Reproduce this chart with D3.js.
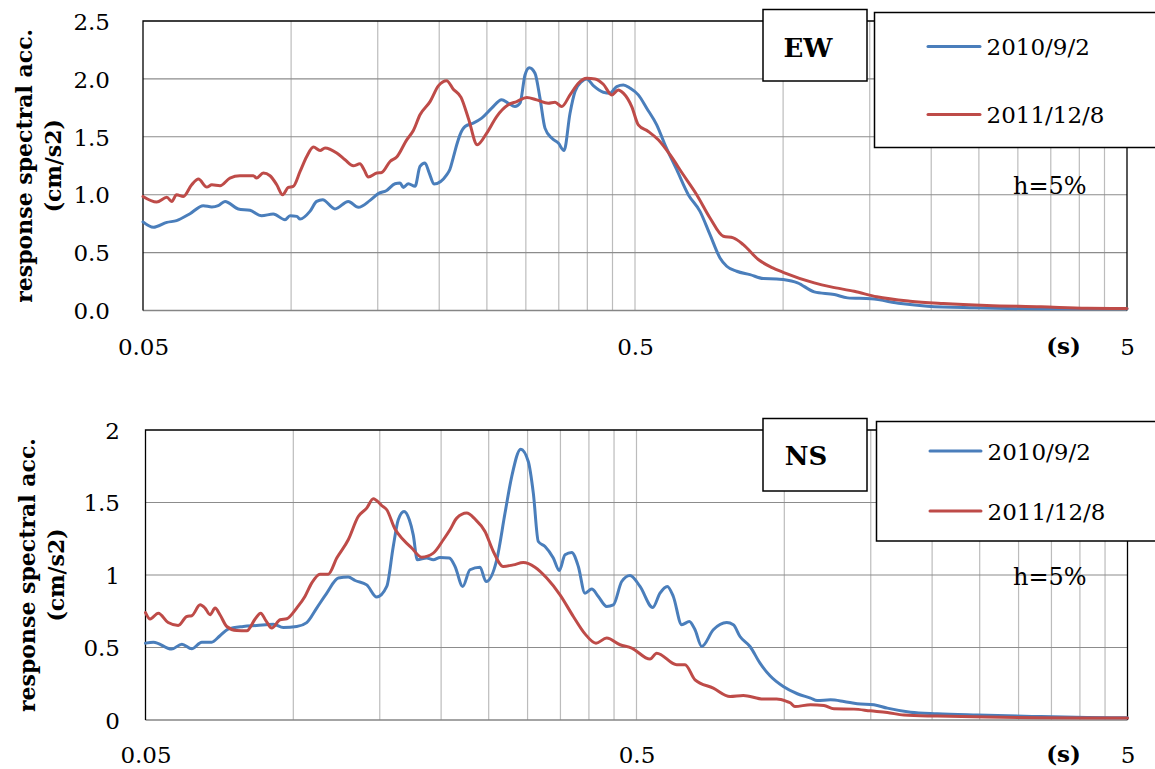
<!DOCTYPE html>
<html>
<head>
<meta charset="utf-8">
<script src="https://cdn.jsdelivr.net/npm/d3@7"></script>
<style>
  body { margin: 0; background: #fff; }
  svg { display: block; }
</style>
</head>
<body>
<svg id="chart" width="1155" height="769"></svg>
<script>
// ---- Response spectra (period in s, acceleration in cm/s2), h = 5% ----
const seriesNames = ["2010/9/2", "2011/12/8"];

// EW component
const ewPeriod2010 = [0.050,0.0525,0.0559,0.0585,0.0623,0.0663,0.0690,0.0711,0.0734,0.0781,0.0825,0.0871,0.0920,0.0972,0.0995,0.1027,0.1043,0.1092,0.1127,0.1159,0.1228,0.1307,0.1370,0.1447,0.1504,0.1564,0.1626,0.1665,0.1691,0.1731,0.1786,0.1828,0.1871,0.1909,0.1952,0.2071,0.2103,0.2136,0.2171,0.2204,0.2257,0.2346,0.2440,0.2557,0.2679,0.2763,0.2851,0.2919,0.2988,0.3049,0.3131,0.3205,0.3281,0.3386,0.3492,0.3587,0.3689,0.3776,0.3896,0.3988,0.4114,0.4311,0.4448,0.4590,0.4734,0.4885,0.5078,0.5282,0.5535,0.5754,0.6078,0.6417,0.6778,0.7103,0.7443,0.7680,0.8048,0.8565,0.9115,0.9705,1.000,1.070,1.157,1.271,1.352,1.509,1.736,1.966,2.446,3.343,5.0];
const ewAcc2010    = [0.765,0.718,0.761,0.776,0.836,0.905,0.894,0.905,0.942,0.877,0.865,0.819,0.833,0.784,0.819,0.813,0.790,0.856,0.942,0.957,0.877,0.942,0.891,0.951,1.009,1.037,1.095,1.101,1.063,1.095,1.072,1.244,1.273,1.187,1.092,1.172,1.22,1.32,1.431,1.517,1.589,1.618,1.661,1.747,1.819,1.790,1.761,1.790,2.034,2.097,2.049,1.834,1.575,1.489,1.446,1.382,1.704,1.891,1.977,2.000,1.942,1.885,1.877,1.934,1.948,1.920,1.862,1.747,1.603,1.431,1.216,1.000,0.856,0.655,0.454,0.382,0.339,0.310,0.276,0.273,0.267,0.239,0.161,0.138,0.109,0.101,0.060,0.037,0.023,0.015,0.015];
const ewPeriod2011 = [0.050,0.0533,0.0559,0.0572,0.0585,0.0604,0.0628,0.0648,0.0674,0.0690,0.0717,0.0751,0.0787,0.0838,0.0851,0.0878,0.0906,0.0935,0.0961,0.0987,0.1010,0.1043,0.1076,0.1110,0.1145,0.1172,0.1238,0.1287,0.1338,0.1380,0.1407,0.1435,0.1493,0.1528,0.1589,0.1639,0.1718,0.1772,0.1828,0.1916,0.1992,0.2071,0.2136,0.2215,0.2292,0.2390,0.2498,0.2617,0.2763,0.2874,0.3012,0.3156,0.3332,0.3439,0.3548,0.3689,0.3835,0.3988,0.4147,0.4311,0.4484,0.4624,0.4734,0.4924,0.5078,0.5321,0.5576,0.5890,0.6268,0.6674,0.7103,0.7559,0.7921,0.8300,0.8904,0.9500,1.000,1.157,1.251,1.395,1.550,1.811,2.117,2.593,3.343,4.141,5.0];
const ewAcc2011    = [0.985,0.937,0.977,0.942,1.000,0.985,1.086,1.135,1.066,1.086,1.078,1.144,1.164,1.164,1.144,1.187,1.164,1.086,1.000,1.063,1.072,1.201,1.330,1.411,1.382,1.403,1.360,1.302,1.250,1.267,1.216,1.153,1.187,1.192,1.287,1.325,1.474,1.554,1.690,1.804,1.940,1.985,1.911,1.840,1.661,1.431,1.532,1.675,1.776,1.804,1.839,1.819,1.790,1.799,1.761,1.862,1.963,2.006,2.000,1.954,1.862,1.905,1.877,1.761,1.603,1.546,1.474,1.345,1.172,1.000,0.799,0.641,0.627,0.569,0.440,0.370,0.330,0.239,0.204,0.166,0.118,0.080,0.060,0.043,0.032,0.020,0.017];

// NS component
const nsPeriod2010 = [0.050,0.0519,0.0565,0.0593,0.0621,0.0651,0.0682,0.0709,0.0737,0.0791,0.0842,0.0911,0.0954,0.1016,0.1065,0.1116,0.1170,0.1235,0.1294,0.1336,0.1411,0.1479,0.1550,0.1598,0.1636,0.1681,0.1723,0.1755,0.1789,0.1869,0.1928,0.1990,0.2078,0.2135,0.2213,0.2290,0.2400,0.2469,0.2596,0.2699,0.2785,0.2905,0.3010,0.3082,0.3155,0.3256,0.3385,0.3481,0.3576,0.3690,0.3806,0.3927,0.4053,0.4180,0.4348,0.4485,0.4665,0.4850,0.5083,0.5395,0.5583,0.5777,0.5942,0.6181,0.6405,0.6579,0.6788,0.7168,0.7633,0.7873,0.8124,0.8514,0.8923,0.9352,0.9953,1.063,1.131,1.167,1.242,1.322,1.408,1.522,1.621,1.808,2.049,2.471,3.274,4.140,5.0];
const nsAcc2010    = [0.530,0.537,0.489,0.523,0.491,0.537,0.537,0.581,0.627,0.645,0.652,0.661,0.638,0.645,0.672,0.772,0.875,0.979,0.986,0.962,0.932,0.848,0.921,1.197,1.381,1.438,1.381,1.277,1.105,1.117,1.105,1.121,1.117,1.059,0.921,1.036,1.054,0.955,1.105,1.427,1.679,1.868,1.783,1.565,1.231,1.197,1.117,1.031,1.139,1.155,1.059,0.875,0.903,0.852,0.783,0.794,0.955,0.997,0.921,0.776,0.875,0.921,0.852,0.657,0.679,0.622,0.507,0.622,0.672,0.657,0.576,0.507,0.392,0.305,0.231,0.181,0.151,0.134,0.139,0.128,0.112,0.105,0.082,0.054,0.043,0.034,0.024,0.017,0.015];
const nsPeriod2011 = [0.050,0.0511,0.0531,0.0556,0.0583,0.0607,0.0621,0.0646,0.0661,0.0677,0.0693,0.0709,0.0732,0.0767,0.0804,0.0836,0.0858,0.0880,0.0904,0.0940,0.0970,0.1016,0.1056,0.1090,0.1133,0.1178,0.1226,0.1294,0.1356,0.1411,0.1455,0.1514,0.1550,0.1611,0.1675,0.1742,0.1826,0.1928,0.2021,0.2085,0.2152,0.2255,0.2344,0.2457,0.2555,0.2677,0.2806,0.2941,0.3106,0.3282,0.3493,0.3718,0.3927,0.4135,0.4348,0.4628,0.4889,0.5327,0.5497,0.6038,0.6277,0.6579,0.7168,0.7752,0.8250,0.9062,0.9650,1.011,1.030,1.051,1.131,1.204,1.262,1.386,1.498,1.621,1.752,2.049,2.583,3.274,4.140,5.0];
const nsAcc2011    = [0.741,0.696,0.737,0.672,0.652,0.714,0.719,0.794,0.772,0.726,0.772,0.726,0.645,0.617,0.615,0.696,0.737,0.684,0.634,0.691,0.698,0.772,0.852,0.944,1.006,1.006,1.117,1.243,1.403,1.461,1.526,1.479,1.450,1.317,1.243,1.186,1.123,1.151,1.243,1.312,1.392,1.427,1.386,1.300,1.162,1.059,1.070,1.086,1.054,0.979,0.863,0.714,0.594,0.530,0.565,0.519,0.496,0.420,0.461,0.381,0.381,0.277,0.220,0.162,0.169,0.144,0.144,0.128,0.117,0.093,0.105,0.100,0.077,0.075,0.063,0.052,0.034,0.027,0.020,0.015,0.013,0.013];

// Axis ticks and grid
const xTickValues = [0.05, 0.5, 5];
const xGridValues = [0.1, 0.15, 0.2, 0.25, 0.3, 0.35, 0.4, 0.45, 0.5, 1, 1.5, 2, 2.5, 3, 3.5, 4, 4.5];
const ewYTicks = [0, 0.5, 1.0, 1.5, 2.0, 2.5];
const nsYTicks = [0, 0.5, 1, 1.5, 2];
const dampingLabel = "h=5%";
const yTitleLines = ["response spectral acc.", "(cm/s2)"];
const xUnitLabel = "(s)";

// ---- Styling / layout ----
const seriesColors = ["#4a7ebb", "#be4b48"];
const FONT = "'DejaVu Serif', 'Liberation Serif', serif";
const svg = d3.select("#chart");

const panels = [
  {
    name: "EW",
    series: [[ewPeriod2010, ewAcc2010], [ewPeriod2011, ewAcc2011]],
    yTicks: ewYTicks, yFormat: d3.format(".1f"),
    frame: { left: 143, right: 1127, top: 21, bottom: 310.5 },
    yLabelPad: 33, xLabelY: 355, titleX: [32, 61],
    nameBox: { x: 763, y: 9.5, w: 104, h: 71.5, tx: 808, ty: 57 },
    legend: { x: 874.5, y: 12.5, w: 300, h: 135, rows: [46.5, 114.5], lx1: 928, lx2: 980, tx: 986.5, dy: 8.5 },
    hLabel: { x: 1013, y: 194 }
  },
  {
    name: "NS",
    series: [[nsPeriod2010, nsAcc2010], [nsPeriod2011, nsAcc2011]],
    yTicks: nsYTicks, yFormat: d3.format("~g"),
    frame: { left: 145.5, right: 1127.5, top: 430, bottom: 720 },
    yLabelPad: 25.5, xLabelY: 763, titleX: [35, 64],
    nameBox: { x: 763, y: 418.5, w: 104, h: 72.5, tx: 806, ty: 465 },
    legend: { x: 876.5, y: 421.5, w: 300, h: 119.5, rows: [451, 511], lx1: 930, lx2: 981, tx: 987.5, dy: 9 },
    hLabel: { x: 1013, y: 585 }
  }
];

function drawPanel(p) {
  const f = p.frame;
  const x = d3.scaleLog().domain([0.05, 5]).range([f.left, f.right]);
  const y = d3.scaleLinear().domain([0, d3.max(p.yTicks)]).range([f.bottom, f.top]);
  const g = svg.append("g").attr("class", "panel-" + p.name);

  // vertical grid
  g.append("g").selectAll("line").data(xGridValues).join("line")
    .attr("x1", d => x(d)).attr("x2", d => x(d))
    .attr("y1", f.top).attr("y2", f.bottom)
    .attr("stroke", "#bcbcbc").attr("stroke-width", 1.2);

  // horizontal grid
  const yMax = d3.max(p.yTicks);
  g.append("g").selectAll("line").data(p.yTicks.filter(v => v > 0 && v < yMax)).join("line")
    .attr("x1", f.left).attr("x2", f.right)
    .attr("y1", d => y(d)).attr("y2", d => y(d))
    .attr("stroke", "#8c8c8c").attr("stroke-width", 1.1);

  // bottom axis line
  g.append("line")
    .attr("x1", f.left).attr("x2", f.right)
    .attr("y1", f.bottom).attr("y2", f.bottom)
    .attr("stroke", "#868686").attr("stroke-width", 1.6);

  // frame (left, top, right)
  g.append("path")
    .attr("d", `M${f.left},${f.bottom}V${f.top}H${f.right}V${f.bottom}`)
    .attr("fill", "none").attr("stroke", "#000").attr("stroke-width", 1.3);

  // y axis labels
  const yAxis = d3.axisLeft(y).tickValues(p.yTicks).tickFormat(p.yFormat)
    .tickSize(0).tickPadding(p.yLabelPad);
  const ya = g.append("g").attr("transform", `translate(${f.left},0)`).call(yAxis);
  ya.select(".domain").remove();
  ya.attr("font-family", FONT).attr("font-size", 23);
  ya.selectAll("text").attr("fill", "#000").attr("dy", "0.36em");

  // x axis labels
  const xAxis = d3.axisBottom(x).tickValues(xTickValues).tickFormat(d => String(d))
    .tickSize(0).tickPadding(0);
  const xa = g.append("g").attr("transform", `translate(0,${f.bottom})`).call(xAxis);
  xa.select(".domain").remove();
  xa.attr("font-family", FONT).attr("font-size", 23);
  xa.selectAll("text").attr("fill", "#000").attr("dy", null).attr("y", p.xLabelY - f.bottom);

  g.append("text")
    .attr("x", 1063.5).attr("y", p.xLabelY - 1)
    .attr("text-anchor", "middle")
    .attr("font-family", FONT).attr("font-size", 23).attr("font-weight", "bold")
    .text(xUnitLabel);

  // y axis title (two rotated lines)
  const cy = (f.top + f.bottom) / 2;
  yTitleLines.forEach((t, i) => {
    g.append("text")
      .attr("transform", `translate(${p.titleX[i]},${cy}) rotate(-90)`)
      .attr("text-anchor", "middle")
      .attr("font-family", FONT).attr("font-size", 22).attr("font-weight", "bold")
      .text(t);
  });

  // spectra
  const line = d3.line().x(d => x(d[0])).y(d => y(d[1])).curve(d3.curveMonotoneX);
  p.series.forEach(([per, acc], i) => {
    g.append("path")
      .datum(d3.zip(per, acc))
      .attr("d", line)
      .attr("fill", "none")
      .attr("stroke", seriesColors[i])
      .attr("stroke-width", 3)
      .attr("stroke-linejoin", "round")
      .attr("stroke-linecap", "round");
  });

  // component name box
  const nb = p.nameBox;
  g.append("rect").attr("x", nb.x).attr("y", nb.y).attr("width", nb.w).attr("height", nb.h)
    .attr("fill", "#fff").attr("stroke", "#000").attr("stroke-width", 1.5);
  g.append("text").attr("x", nb.tx).attr("y", nb.ty).attr("text-anchor", "middle")
    .attr("font-family", FONT).attr("font-size", 26).attr("font-weight", "bold")
    .text(p.name);

  // legend
  const lg = p.legend;
  g.append("rect").attr("x", lg.x).attr("y", lg.y).attr("width", lg.w).attr("height", lg.h)
    .attr("fill", "#fff").attr("stroke", "#000").attr("stroke-width", 1.5);
  seriesNames.forEach((name, i) => {
    const ry = lg.rows[i];
    g.append("line").attr("x1", lg.lx1).attr("x2", lg.lx2).attr("y1", ry).attr("y2", ry)
      .attr("stroke", seriesColors[i]).attr("stroke-width", 3).attr("stroke-linecap", "round");
    g.append("text").attr("x", lg.tx).attr("y", ry + lg.dy)
      .attr("font-family", FONT).attr("font-size", 23)
      .text(name);
  });

  // damping note
  g.append("text").attr("x", p.hLabel.x).attr("y", p.hLabel.y)
    .attr("font-family", FONT).attr("font-size", 24)
    .text(dampingLabel);
}

panels.forEach(drawPanel);
</script>
</body>
</html>
